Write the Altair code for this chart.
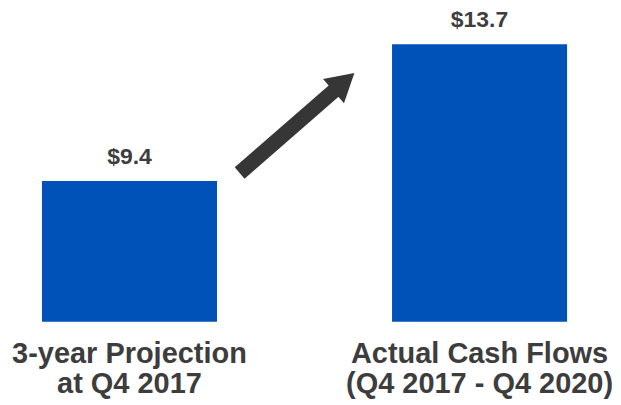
import altair as alt
import pandas as pd

categories = ["3-year Projection|at Q4 2017", "Actual Cash Flows|(Q4 2017 - Q4 2020)"]
values = [9.4, 13.7]
value_labels = ["$9.4", "$13.7"]

# arrow annotation (x as fraction of plot width, y in value units)
arrow_x = [0.3906, 0.5665]
arrow_y = [9.65, 12.51]

y_min, y_max = 4.97, 14.83

df = pd.DataFrame({"category": categories, "value": values, "label": value_labels})
arrow_df = pd.DataFrame({"ax": arrow_x, "ay": arrow_y, "order": [0, 1]})
head_df = arrow_df.iloc[[1]]

BLUE = "#0052B9"
TEXT = "#3d3d3d"
ARROW = "#363636"
FONT = "Liberation Sans"

x_enc = alt.X(
    "category:N",
    sort=categories,
    title=None,
    scale=alt.Scale(paddingInner=0.5, paddingOuter=0.097),
    axis=alt.Axis(
        labelExpr="split(datum.label, '|')",
        labelAngle=0,
        labelFontSize=29,
        labelFont=FONT,
        labelFontWeight="bold",
        labelColor=TEXT,
        labelLineHeight=30,
        labelPadding=18,
        labelLimit=0,
        ticks=False,
        domain=False,
        grid=False,
    ),
)
y_scale = alt.Scale(domain=[y_min, y_max], zero=False, nice=False)

bars = alt.Chart(df).mark_bar(color=BLUE).encode(
    x=x_enc,
    y=alt.Y("value:Q", scale=y_scale, axis=None),
    y2=alt.datum(y_min),
)

text = alt.Chart(df).mark_text(
    fontSize=23, font=FONT, fontWeight="bold", color=TEXT, baseline="alphabetic", dy=-17
).encode(
    x=alt.X("category:N", sort=categories),
    y=alt.Y("value:Q", scale=y_scale, axis=None),
    text="label:N",
)

base = alt.layer(bars, text)

ax_scale = alt.Scale(domain=[0, 1], nice=False, zero=False)
line = alt.Chart(arrow_df).mark_line(color=ARROW, strokeWidth=15, strokeCap="butt").encode(
    x=alt.X("ax:Q", scale=ax_scale, axis=None),
    y=alt.Y("ay:Q", scale=y_scale, axis=None),
    order="order:Q",
)
head = alt.Chart(head_df).mark_point(
    shape="triangle-up", size=1024, filled=True, color=ARROW, opacity=1, angle=49
).encode(
    x=alt.X("ax:Q", scale=ax_scale, axis=None),
    y=alt.Y("ay:Q", scale=y_scale, axis=None),
)
arrow = alt.layer(line, head)

chart = (
    alt.layer(base, arrow)
    .resolve_scale(x="independent")
    .properties(width=594, height=314, background="white", padding=0)
    .configure_view(stroke=None)
)

chart.save("out.html", embed_options={"renderer": "svg", "actions": False})
